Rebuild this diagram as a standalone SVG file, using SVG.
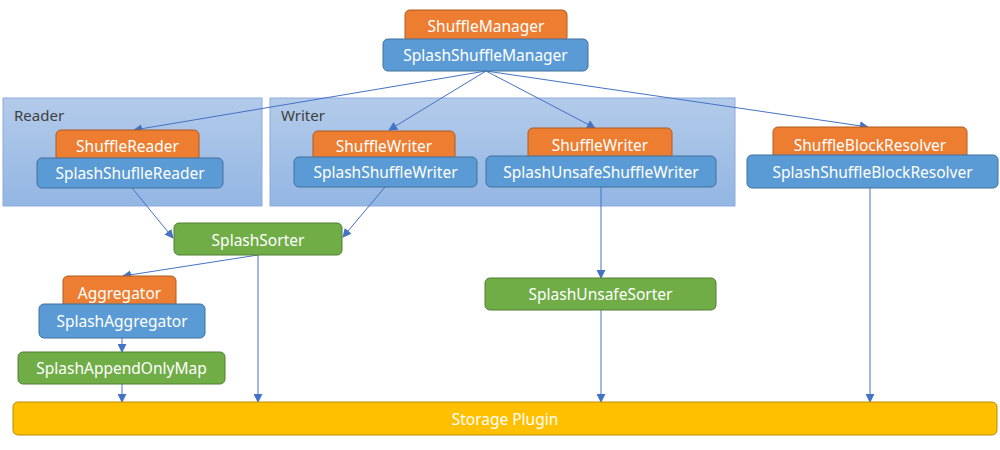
<svg xmlns="http://www.w3.org/2000/svg" width="1000" height="450" viewBox="0 0 1000 450">
<defs>
<linearGradient id="grp" x1="0" y1="0" x2="0" y2="1">
<stop offset="0" stop-color="#B3CBEA"/>
<stop offset="1" stop-color="#93B6E3"/>
</linearGradient>
<marker id="ah" viewBox="0 0 10 10" refX="9" refY="5" markerWidth="9" markerHeight="9" markerUnits="userSpaceOnUse" orient="auto">
<path d="M0,0 L10,5 L0,10 z" fill="#4472C4"/>
</marker>
<style>
text{font-family:"Noto Sans","Noto Sans CJK SC",sans-serif;font-size:15.5px;fill:#fff;text-anchor:middle;dominant-baseline:central}
.grp{fill:url(#grp);stroke:#8EAADB;stroke-width:1}
.glab{fill:#404040;text-anchor:start;font-size:15px}
.o{fill:#ED7D31;stroke:#AE5A21;stroke-width:1}
.b{fill:#5B9BD5;stroke:#41719C;stroke-width:1}
.g{fill:#70AD47;stroke:#507E32;stroke-width:1}
.y{fill:#FFC000;stroke:#BC8C00;stroke-width:1}
.c{stroke:#4472C4;stroke-width:1;fill:none;marker-end:url(#ah)}
</style>
</defs>
<rect width="1000" height="450" fill="#fff"/>
<g id="reader-group">
<rect class="grp" x="3" y="98" width="259" height="108"/>
<text class="glab" x="14" y="115">Reader</text>
</g>
<g id="writer-group">
<rect class="grp" x="270" y="98" width="465" height="108"/>
<text class="glab" x="281" y="115">Writer</text>
</g>
<g id="connectors">
<line class="c" x1="486" y1="71" x2="134" y2="130"/>
<line class="c" x1="486" y1="71" x2="389" y2="130"/>
<line class="c" x1="486" y1="71" x2="595" y2="128"/>
<line class="c" x1="486" y1="71" x2="868" y2="127"/>
<line class="c" x1="132" y1="188" x2="173" y2="238"/>
<line class="c" x1="385" y1="187" x2="343" y2="237"/>
<line class="c" x1="258" y1="255" x2="123" y2="276"/>
<line class="c" x1="258" y1="255" x2="258" y2="402"/>
<line class="c" x1="122" y1="338" x2="122" y2="352"/>
<line class="c" x1="122" y1="384" x2="122" y2="402"/>
<line class="c" x1="601" y1="187" x2="601" y2="278"/>
<line class="c" x1="601" y1="310" x2="601" y2="402"/>
<line class="c" x1="870" y1="188" x2="870" y2="402"/>
</g>
<g id="ShuffleManager">
<rect class="o" x="405" y="10" width="162" height="32" rx="5"/>
<text x="486" y="26">ShuffleManager</text>
</g>
<g id="SplashShuffleManager">
<rect class="b" x="383" y="39" width="205" height="32" rx="5"/>
<text x="485.5" y="55">SplashShuffleManager</text>
</g>
<g id="ShuffleReader">
<rect class="o" x="56" y="130" width="143" height="31" rx="5"/>
<text x="127.5" y="146">ShuffleReader</text>
</g>
<g id="SplashShuflleReader">
<rect class="b" x="37" y="158" width="186" height="30" rx="5"/>
<text x="130" y="173">SplashShuflleReader</text>
</g>
<g id="ShuffleWriter1">
<rect class="o" x="313" y="131" width="142" height="30" rx="5"/>
<text x="384" y="146">ShuffleWriter</text>
</g>
<g id="SplashShuffleWriter">
<rect class="b" x="294" y="157" width="183" height="30" rx="5"/>
<text x="385.5" y="172">SplashShuffleWriter</text>
</g>
<g id="ShuffleWriter2">
<rect class="o" x="528" y="128" width="144" height="33" rx="5"/>
<text x="600" y="144.5">ShuffleWriter</text>
</g>
<g id="SplashUnsafeShuffleWriter">
<rect class="b" x="486" y="156" width="230" height="31" rx="5"/>
<text x="601" y="172">SplashUnsafeShuffleWriter</text>
</g>
<g id="ShuffleBlockResolver">
<rect class="o" x="773" y="127" width="194" height="35" rx="5"/>
<text x="870" y="144.5">ShuffleBlockResolver</text>
</g>
<g id="SplashShuffleBlockResolver">
<rect class="b" x="747" y="155" width="251" height="33" rx="5"/>
<text x="872.5" y="172">SplashShuffleBlockResolver</text>
</g>
<g id="SplashSorter">
<rect class="g" x="174" y="223" width="168" height="32" rx="5"/>
<text x="258" y="240">SplashSorter</text>
</g>
<g id="Aggregator">
<rect class="o" x="63" y="276" width="113" height="33" rx="5"/>
<text x="119.5" y="292.5">Aggregator</text>
</g>
<g id="SplashAggregator">
<rect class="b" x="39" y="304" width="166" height="34" rx="5"/>
<text x="122" y="321">SplashAggregator</text>
</g>
<g id="SplashAppendOnlyMap">
<rect class="g" x="18" y="352" width="207" height="32" rx="5"/>
<text x="121.5" y="368">SplashAppendOnlyMap</text>
</g>
<g id="SplashUnsafeSorter">
<rect class="g" x="485" y="278" width="231" height="32" rx="5"/>
<text x="600.5" y="294">SplashUnsafeSorter</text>
</g>
<g id="StoragePlugin">
<rect class="y" x="13" y="402" width="984" height="33" rx="5"/>
<text x="505" y="419">Storage Plugin</text>
</g>
</svg>
